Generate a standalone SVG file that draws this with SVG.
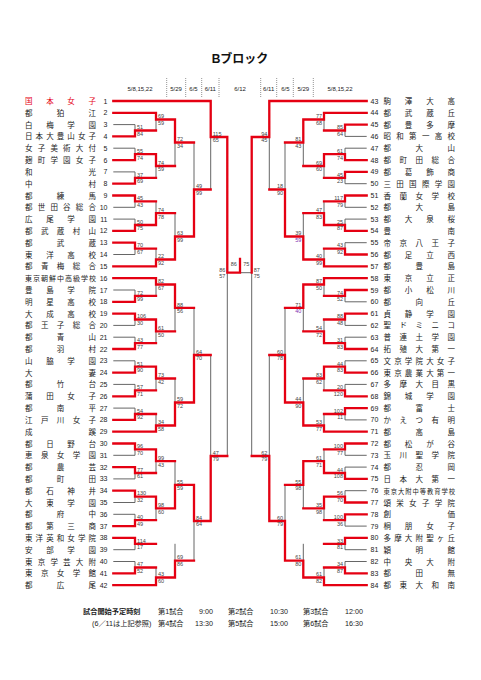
<svg xmlns="http://www.w3.org/2000/svg" width="481" height="680" viewBox="0 0 481 680">
<style>
.g{stroke:#666;stroke-width:1;fill:none}
.r{stroke:#e50012;stroke-width:2.3;fill:none;stroke-linecap:square}
.d{stroke:#777;stroke-width:0.8;stroke-dasharray:1 1}
.nm{font-family:"Noto Sans CJK JP",sans-serif;font-size:7.5px;fill:#222}
.nl{font-family:"Liberation Sans",sans-serif;font-size:7px;fill:#222}
.s{font-family:"Liberation Sans",sans-serif;font-size:5.5px;fill:#444}
.sr{text-anchor:end}
.p{fill:#8030b0}
.h{font-family:"Liberation Sans",sans-serif;font-size:6px;fill:#222;text-anchor:middle}
.f{font-family:"Liberation Sans","Noto Sans CJK JP",sans-serif;font-size:7.2px;fill:#222}
</style>
<rect width="481" height="680" fill="#fff"/>
<g id="header">
<text x="240" y="62.5" text-anchor="middle" font-family="Liberation Sans,Noto Sans CJK JP,sans-serif" font-size="12" font-weight="bold" fill="#111">Bブロック</text>
<path class="d" d="M166.7 78V98M185.7 78V98M201.7 78V98M219 78V98M260.7 78V98M276.7 78V98M293.3 78V98M313.3 78V98"/>
<text class="h" x="140" y="90.5">5/8,15,22</text>
<text class="h" x="176" y="90.5">5/29</text>
<text class="h" x="193.5" y="90.5">6/5</text>
<text class="h" x="210.3" y="90.5">6/11</text>
<text class="h" x="240" y="90.5">6/12</text>
<text class="h" x="268.7" y="90.5">6/11</text>
<text class="h" x="285.3" y="90.5">6/5</text>
<text class="h" x="303.3" y="90.5">5/29</text>
<text class="h" x="340" y="90.5">5/8,15,22</text>
</g>
<g id="teams-left">
<g id="t1"><text class="nm" x="25" y="104" textLength="71" lengthAdjust="spacing" style="fill:#e50012">国本女子</text><text class="nl" x="107.5" y="103.5" text-anchor="end">1</text></g>
<g id="t2"><text class="nm" x="25" y="115.8" textLength="71" lengthAdjust="spacing">都狛江</text><text class="nl" x="107.5" y="115.3" text-anchor="end">2</text></g>
<g id="t3"><text class="nm" x="25" y="127.6" textLength="71" lengthAdjust="spacing">白梅学園</text><text class="nl" x="107.5" y="127.1" text-anchor="end">3</text></g>
<g id="t4"><text class="nm" x="25" y="139.4" textLength="71" lengthAdjust="spacing">日本大豊山女子</text><text class="nl" x="107.5" y="138.9" text-anchor="end">4</text></g>
<g id="t5"><text class="nm" x="25" y="151.2" textLength="71" lengthAdjust="spacing">女子美術大付</text><text class="nl" x="107.5" y="150.7" text-anchor="end">5</text></g>
<g id="t6"><text class="nm" x="25" y="163.1" textLength="71" lengthAdjust="spacing">麹町学園女子</text><text class="nl" x="107.5" y="162.6" text-anchor="end">6</text></g>
<g id="t7"><text class="nm" x="25" y="174.9" textLength="71" lengthAdjust="spacing">和光</text><text class="nl" x="107.5" y="174.4" text-anchor="end">7</text></g>
<g id="t8"><text class="nm" x="25" y="186.7" textLength="71" lengthAdjust="spacing">中村</text><text class="nl" x="107.5" y="186.2" text-anchor="end">8</text></g>
<g id="t9"><text class="nm" x="25" y="198.5" textLength="71" lengthAdjust="spacing">都練馬</text><text class="nl" x="107.5" y="198" text-anchor="end">9</text></g>
<g id="t10"><text class="nm" x="25" y="210.3" textLength="71" lengthAdjust="spacing">都世田谷総合</text><text class="nl" x="107.5" y="209.8" text-anchor="end">10</text></g>
<g id="t11"><text class="nm" x="25" y="222.1" textLength="71" lengthAdjust="spacing">広尾学園</text><text class="nl" x="107.5" y="221.6" text-anchor="end">11</text></g>
<g id="t12"><text class="nm" x="25" y="233.9" textLength="71" lengthAdjust="spacing">都武蔵村山</text><text class="nl" x="107.5" y="233.4" text-anchor="end">12</text></g>
<g id="t13"><text class="nm" x="25" y="245.7" textLength="71" lengthAdjust="spacing">都武蔵</text><text class="nl" x="107.5" y="245.2" text-anchor="end">13</text></g>
<g id="t14"><text class="nm" x="25" y="257.5" textLength="71" lengthAdjust="spacing">東洋高校</text><text class="nl" x="107.5" y="257" text-anchor="end">14</text></g>
<g id="t15"><text class="nm" x="25" y="269.3" textLength="71" lengthAdjust="spacing">都青梅総合</text><text class="nl" x="107.5" y="268.8" text-anchor="end">15</text></g>
<g id="t16"><text class="nm" x="25" y="281.2" textLength="71" lengthAdjust="spacing" style="font-size:7px">東京朝鮮中高級学校</text><text class="nl" x="107.5" y="280.7" text-anchor="end">16</text></g>
<g id="t17"><text class="nm" x="25" y="293" textLength="71" lengthAdjust="spacing">豊島学院</text><text class="nl" x="107.5" y="292.5" text-anchor="end">17</text></g>
<g id="t18"><text class="nm" x="25" y="304.8" textLength="71" lengthAdjust="spacing">明星高校</text><text class="nl" x="107.5" y="304.3" text-anchor="end">18</text></g>
<g id="t19"><text class="nm" x="25" y="316.6" textLength="71" lengthAdjust="spacing">大成高校</text><text class="nl" x="107.5" y="316.1" text-anchor="end">19</text></g>
<g id="t20"><text class="nm" x="25" y="328.4" textLength="71" lengthAdjust="spacing">都王子総合</text><text class="nl" x="107.5" y="327.9" text-anchor="end">20</text></g>
<g id="t21"><text class="nm" x="25" y="340.2" textLength="71" lengthAdjust="spacing">都青山</text><text class="nl" x="107.5" y="339.7" text-anchor="end">21</text></g>
<g id="t22"><text class="nm" x="25" y="352" textLength="71" lengthAdjust="spacing">都羽村</text><text class="nl" x="107.5" y="351.5" text-anchor="end">22</text></g>
<g id="t23"><text class="nm" x="25" y="363.8" textLength="71" lengthAdjust="spacing">山脇学園</text><text class="nl" x="107.5" y="363.3" text-anchor="end">23</text></g>
<g id="t24"><text class="nm" x="25" y="375.6" textLength="71" lengthAdjust="spacing">大妻</text><text class="nl" x="107.5" y="375.1" text-anchor="end">24</text></g>
<g id="t25"><text class="nm" x="25" y="387.4" textLength="71" lengthAdjust="spacing">都竹台</text><text class="nl" x="107.5" y="386.9" text-anchor="end">25</text></g>
<g id="t26"><text class="nm" x="25" y="399.3" textLength="71" lengthAdjust="spacing">蒲田女子</text><text class="nl" x="107.5" y="398.8" text-anchor="end">26</text></g>
<g id="t27"><text class="nm" x="25" y="411.1" textLength="71" lengthAdjust="spacing">都南平</text><text class="nl" x="107.5" y="410.6" text-anchor="end">27</text></g>
<g id="t28"><text class="nm" x="25" y="422.9" textLength="71" lengthAdjust="spacing">江戸川女子</text><text class="nl" x="107.5" y="422.4" text-anchor="end">28</text></g>
<g id="t29"><text class="nm" x="25" y="434.7" textLength="71" lengthAdjust="spacing">成蹊</text><text class="nl" x="107.5" y="434.2" text-anchor="end">29</text></g>
<g id="t30"><text class="nm" x="25" y="446.5" textLength="71" lengthAdjust="spacing">都日野台</text><text class="nl" x="107.5" y="446" text-anchor="end">30</text></g>
<g id="t31"><text class="nm" x="25" y="458.3" textLength="71" lengthAdjust="spacing">恵泉女学園</text><text class="nl" x="107.5" y="457.8" text-anchor="end">31</text></g>
<g id="t32"><text class="nm" x="25" y="470.1" textLength="71" lengthAdjust="spacing">都農芸</text><text class="nl" x="107.5" y="469.6" text-anchor="end">32</text></g>
<g id="t33"><text class="nm" x="25" y="481.9" textLength="71" lengthAdjust="spacing">都町田</text><text class="nl" x="107.5" y="481.4" text-anchor="end">33</text></g>
<g id="t34"><text class="nm" x="25" y="493.7" textLength="71" lengthAdjust="spacing">都石神井</text><text class="nl" x="107.5" y="493.2" text-anchor="end">34</text></g>
<g id="t35"><text class="nm" x="25" y="505.5" textLength="71" lengthAdjust="spacing">大東学園</text><text class="nl" x="107.5" y="505" text-anchor="end">35</text></g>
<g id="t36"><text class="nm" x="25" y="517.3" textLength="71" lengthAdjust="spacing">都府中</text><text class="nl" x="107.5" y="516.8" text-anchor="end">36</text></g>
<g id="t37"><text class="nm" x="25" y="529.1" textLength="71" lengthAdjust="spacing">都第三商</text><text class="nl" x="107.5" y="528.6" text-anchor="end">37</text></g>
<g id="t38"><text class="nm" x="25" y="540.9" textLength="71" lengthAdjust="spacing">東洋英和女学院</text><text class="nl" x="107.5" y="540.4" text-anchor="end">38</text></g>
<g id="t39"><text class="nm" x="25" y="552.7" textLength="71" lengthAdjust="spacing">安部学園</text><text class="nl" x="107.5" y="552.2" text-anchor="end">39</text></g>
<g id="t40"><text class="nm" x="25" y="564.5" textLength="71" lengthAdjust="spacing">東京学芸大附</text><text class="nl" x="107.5" y="564" text-anchor="end">40</text></g>
<g id="t41"><text class="nm" x="25" y="576.4" textLength="71" lengthAdjust="spacing">東京女学館</text><text class="nl" x="107.5" y="575.9" text-anchor="end">41</text></g>
<g id="t42"><text class="nm" x="25" y="588.2" textLength="71" lengthAdjust="spacing">都広尾</text><text class="nl" x="107.5" y="587.7" text-anchor="end">42</text></g>
</g>
<g id="teams-right">
<g id="t43"><text class="nl" x="370.5" y="103.5">43</text><text class="nm" x="383.5" y="104" textLength="71.5" lengthAdjust="spacing">駒澤大高</text></g>
<g id="t44"><text class="nl" x="370.5" y="115.3">44</text><text class="nm" x="383.5" y="115.8" textLength="71.5" lengthAdjust="spacing">都武蔵丘</text></g>
<g id="t45"><text class="nl" x="370.5" y="127.1">45</text><text class="nm" x="383.5" y="127.6" textLength="71.5" lengthAdjust="spacing">都豊多摩</text></g>
<g id="t46"><text class="nl" x="370.5" y="138.9">46</text><text class="nm" x="383.5" y="139.4" textLength="71.5" lengthAdjust="spacing">昭和第一高校</text></g>
<g id="t47"><text class="nl" x="370.5" y="150.7">47</text><text class="nm" x="383.5" y="151.2" textLength="71.5" lengthAdjust="spacing">都大山</text></g>
<g id="t48"><text class="nl" x="370.5" y="162.6">48</text><text class="nm" x="383.5" y="163.1" textLength="71.5" lengthAdjust="spacing">都町田総合</text></g>
<g id="t49"><text class="nl" x="370.5" y="174.4">49</text><text class="nm" x="383.5" y="174.9" textLength="71.5" lengthAdjust="spacing">都葛飾商</text></g>
<g id="t50"><text class="nl" x="370.5" y="186.2">50</text><text class="nm" x="383.5" y="186.7" textLength="71.5" lengthAdjust="spacing">三田国際学園</text></g>
<g id="t51"><text class="nl" x="370.5" y="198">51</text><text class="nm" x="383.5" y="198.5" textLength="71.5" lengthAdjust="spacing">香蘭女学校</text></g>
<g id="t52"><text class="nl" x="370.5" y="209.8">52</text><text class="nm" x="383.5" y="210.3" textLength="71.5" lengthAdjust="spacing">都大島</text></g>
<g id="t53"><text class="nl" x="370.5" y="221.6">53</text><text class="nm" x="383.5" y="222.1" textLength="71.5" lengthAdjust="spacing">都大泉桜</text></g>
<g id="t54"><text class="nl" x="370.5" y="233.4">54</text><text class="nm" x="383.5" y="233.9" textLength="71.5" lengthAdjust="spacing">豊南</text></g>
<g id="t55"><text class="nl" x="370.5" y="245.2">55</text><text class="nm" x="383.5" y="245.7" textLength="71.5" lengthAdjust="spacing">帝京八王子</text></g>
<g id="t56"><text class="nl" x="370.5" y="257">56</text><text class="nm" x="383.5" y="257.5" textLength="71.5" lengthAdjust="spacing">都足立西</text></g>
<g id="t57"><text class="nl" x="370.5" y="268.8">57</text><text class="nm" x="383.5" y="269.3" textLength="71.5" lengthAdjust="spacing">都豊島</text></g>
<g id="t58"><text class="nl" x="370.5" y="280.7">58</text><text class="nm" x="383.5" y="281.2" textLength="71.5" lengthAdjust="spacing">東京立正</text></g>
<g id="t59"><text class="nl" x="370.5" y="292.5">59</text><text class="nm" x="383.5" y="293" textLength="71.5" lengthAdjust="spacing">都小松川</text></g>
<g id="t60"><text class="nl" x="370.5" y="304.3">60</text><text class="nm" x="383.5" y="304.8" textLength="71.5" lengthAdjust="spacing">都向丘</text></g>
<g id="t61"><text class="nl" x="370.5" y="316.1">61</text><text class="nm" x="383.5" y="316.6" textLength="71.5" lengthAdjust="spacing">貞静学園</text></g>
<g id="t62"><text class="nl" x="370.5" y="327.9">62</text><text class="nm" x="383.5" y="328.4" textLength="71.5" lengthAdjust="spacing">聖ドミニコ</text></g>
<g id="t63"><text class="nl" x="370.5" y="339.7">63</text><text class="nm" x="383.5" y="340.2" textLength="71.5" lengthAdjust="spacing">普連土学園</text></g>
<g id="t64"><text class="nl" x="370.5" y="351.5">64</text><text class="nm" x="383.5" y="352" textLength="71.5" lengthAdjust="spacing">拓殖大第一</text></g>
<g id="t65"><text class="nl" x="370.5" y="363.3">65</text><text class="nm" x="383.5" y="363.8" textLength="71.5" lengthAdjust="spacing">文京学院大女子</text></g>
<g id="t66"><text class="nl" x="370.5" y="375.1">66</text><text class="nm" x="383.5" y="375.6" textLength="71.5" lengthAdjust="spacing">東京農業大第一</text></g>
<g id="t67"><text class="nl" x="370.5" y="386.9">67</text><text class="nm" x="383.5" y="387.4" textLength="71.5" lengthAdjust="spacing">多摩大目黒</text></g>
<g id="t68"><text class="nl" x="370.5" y="398.8">68</text><text class="nm" x="383.5" y="399.3" textLength="71.5" lengthAdjust="spacing">錦城学園</text></g>
<g id="t69"><text class="nl" x="370.5" y="410.6">69</text><text class="nm" x="383.5" y="411.1" textLength="71.5" lengthAdjust="spacing">都富士</text></g>
<g id="t70"><text class="nl" x="370.5" y="422.4">70</text><text class="nm" x="383.5" y="422.9" textLength="71.5" lengthAdjust="spacing">かえつ有明</text></g>
<g id="t71"><text class="nl" x="370.5" y="434.2">71</text><text class="nm" x="383.5" y="434.7" textLength="71.5" lengthAdjust="spacing">都高島</text></g>
<g id="t72"><text class="nl" x="370.5" y="446">72</text><text class="nm" x="383.5" y="446.5" textLength="71.5" lengthAdjust="spacing">都松が谷</text></g>
<g id="t73"><text class="nl" x="370.5" y="457.8">73</text><text class="nm" x="383.5" y="458.3" textLength="71.5" lengthAdjust="spacing">玉川聖学院</text></g>
<g id="t74"><text class="nl" x="370.5" y="469.6">74</text><text class="nm" x="383.5" y="470.1" textLength="71.5" lengthAdjust="spacing">都忍岡</text></g>
<g id="t75"><text class="nl" x="370.5" y="481.4">75</text><text class="nm" x="383.5" y="481.9" textLength="71.5" lengthAdjust="spacing">日本大第一</text></g>
<g id="t76"><text class="nl" x="370.5" y="493.2">76</text><text class="nm" x="383.5" y="493.5" textLength="71.5" lengthAdjust="spacing" style="font-size:6.3px">東京大附中等教育学校</text></g>
<g id="t77"><text class="nl" x="370.5" y="505">77</text><text class="nm" x="383.5" y="505.5" textLength="71.5" lengthAdjust="spacing">頌栄女子学院</text></g>
<g id="t78"><text class="nl" x="370.5" y="516.8">78</text><text class="nm" x="383.5" y="517.3" textLength="71.5" lengthAdjust="spacing">創価</text></g>
<g id="t79"><text class="nl" x="370.5" y="528.6">79</text><text class="nm" x="383.5" y="529.1" textLength="71.5" lengthAdjust="spacing">桐朋女子</text></g>
<g id="t80"><text class="nl" x="370.5" y="540.4">80</text><text class="nm" x="383.5" y="540.9" textLength="71.5" lengthAdjust="spacing">多摩大附聖ヶ丘</text></g>
<g id="t81"><text class="nl" x="370.5" y="552.2">81</text><text class="nm" x="383.5" y="552.7" textLength="71.5" lengthAdjust="spacing">穎明館</text></g>
<g id="t82"><text class="nl" x="370.5" y="564">82</text><text class="nm" x="383.5" y="564.5" textLength="71.5" lengthAdjust="spacing">中央大附</text></g>
<g id="t83"><text class="nl" x="370.5" y="575.9">83</text><text class="nm" x="383.5" y="576.4" textLength="71.5" lengthAdjust="spacing">都田無</text></g>
<g id="t84"><text class="nl" x="370.5" y="587.7">84</text><text class="nm" x="383.5" y="588.2" textLength="71.5" lengthAdjust="spacing">都東大和南</text></g>
</g>
<g id="connectors">
<path class="g" d="M113.3 124.6H135M113.3 148.2H135M113.3 171.9H135M113.3 207.3H135M113.3 219.1H135M113.3 254.5H135M113.3 290H135M113.3 325.4H135M113.3 337.2H135M113.3 360.8H135M113.3 384.4H135M113.3 408.1H135M113.3 455.3H135M113.3 478.9H135M113.3 502.5H135M113.3 514.3H135M113.3 549.7H135M113.3 561.5H135
M135 124.6V136.4M156 112.8V130.5M135 148.2V160.1M135 171.9V183.7M156 154.2V177.8M175 119.5V166M135 195.5V207.3M135 219.1V230.9M156 201.4V225M135 242.7V254.5M156 248.6V266.3M175 213.2V259.5M194 142.5V236.5M210.7 101V189.5
M135 290V301.8M156 278.2V295.9M135 313.6V325.4M135 337.2V349M156 319.5V343.1M175 284.5V331.3M135 360.8V372.6M135 384.4V396.3M156 366.7V390.3M135 408.1V419.9M156 414V431.7M175 378.5V425.5M194 307.9V402.5
M135 443.5V455.3M135 467.1V478.9M156 449.4V473M135 490.7V502.5M135 514.3V526.1M156 496.6V520.2M175 461.2V508.4M135 537.9V549.7M135 561.5V573.4M156 567.5V585.2M175 543.8V577.5M194 484.8V560.6M210.7 355V521M227.3 137V456"/>
<path class="g" d="M366.7 136.4H345M366.7 148.2H345M366.7 183.7H345M366.7 207.3H345M366.7 219.1H345M366.7 242.7H345M366.7 301.8H345M366.7 325.4H345M366.7 337.2H345M366.7 360.8H345M366.7 384.4H345M366.7 419.9H345M366.7 455.3H345M366.7 467.1H345M366.7 490.7H345M366.7 526.1H345M366.7 549.7H345M366.7 561.5H345
M345 124.6V136.4M324 112.8V130.5M345 148.2V160.1M345 171.9V183.7M324 154.2V177.8M303.3 119.5V166M345 195.5V207.3M345 219.1V230.9M324 201.4V225M345 242.7V254.5M324 248.6V266.3M303.3 213.2V259.5M285 142.5V236.5M269.3 101V189.5
M345 290V301.8M324 278.2V295.9M345 313.6V325.4M345 337.2V349M324 319.5V343.1M303.3 284.5V331.3M345 360.8V372.6M345 384.4V396.3M324 366.7V390.3M345 408.1V419.9M324 414V431.7M303.3 378.5V425.5M285 307.9V402.5
M345 443.5V455.3M345 467.1V478.9M324 449.4V473M345 490.7V502.5M345 514.3V526.1M324 496.6V520.2M303.3 461.2V508.4M345 537.9V549.7M345 561.5V573.4M324 567.5V585.2M303.3 543.8V577.5M285 484.8V560.6M269.3 355V521M251.7 137V456
M240 272.7H251.7"/>
<path class="r" d="M113.3 101H210.7M113.3 112.8H156M113.3 136.4H135M113.3 160.1H135M113.3 183.7H135M113.3 195.5H135M113.3 230.9H135M113.3 242.7H135M113.3 266.3H156M113.3 278.2H156M113.3 301.8H135M113.3 313.6H135M113.3 349H135M113.3 372.6H135M113.3 396.3H135M113.3 419.9H135M113.3 431.7H156M113.3 443.5H135M113.3 467.1H135M113.3 490.7H135M113.3 526.1H135M113.3 537.9H135M113.3 573.4H135M113.3 585.2H156
M135 136.4V130.5H156M156 112.8V119.5H175M135 160.1V154.2H156M135 183.7V177.8H156M156 154.2V166H175M175 119.5V142.5H194M135 195.5V201.4H156M135 230.9V225H156M156 225V213.2H175M135 242.7V248.6H156M156 266.3V259.5H175M175 259.5V236.5H194M194 236.5V189.5H210.7M210.7 101V137H227.3
M135 301.8V295.9H156M156 278.2V284.5H175M135 313.6V319.5H156M135 349V343.1H156M156 319.5V331.3H175M175 284.5V307.9H194M135 372.6V366.7H156M135 396.3V390.3H156M156 366.7V378.5H175M135 419.9V414H156M156 431.7V425.5H175M175 425.5V402.5H194M194 402.5V355H210.7
M135 443.5V449.4H156M135 467.1V473H156M156 449.4V461.2H175M135 490.7V496.6H156M135 526.1V520.2H156M156 496.6V508.4H175M175 508.4V484.8H194M135 537.9V543.8H156M135 573.4V567.5H156M156 585.2V577.5H175M175 577.5V560.6H194M194 484.8V521H210.7M210.7 521V456H227.3M227.3 137V272.7H240M240 272.7V259"/>
<path class="r" d="M366.7 101H269.3M366.7 112.8H324M366.7 124.6H345M366.7 160.1H345M366.7 171.9H345M366.7 195.5H345M366.7 230.9H345M366.7 254.5H345M366.7 266.3H324M366.7 278.2H324M366.7 290H345M366.7 313.6H345M366.7 349H345M366.7 372.6H345M366.7 396.3H345M366.7 408.1H345M366.7 431.7H324M366.7 443.5H345M366.7 478.9H345M366.7 502.5H345M366.7 514.3H345M366.7 537.9H345M366.7 573.4H345M366.7 585.2H324
M345 124.6V130.5H324M324 112.8V119.5H303.3M345 160.1V154.2H324M345 171.9V177.8H324M324 154.2V166H303.3M303.3 119.5V142.5H285M345 195.5V201.4H324M345 230.9V225H324M324 225V213.2H303.3M345 254.5V248.6H324M324 266.3V259.5H303.3M303.3 259.5V236.5H285M285 236.5V189.5H269.3M269.3 101V137H251.7
M345 290V295.9H324M324 278.2V284.5H303.3M345 313.6V319.5H324M345 349V343.1H324M324 343.1V331.3H303.3M303.3 284.5V307.9H285M345 372.6V366.7H324M345 396.3V390.3H324M324 366.7V378.5H303.3M345 408.1V414H324M324 431.7V425.5H303.3M303.3 425.5V402.5H285M285 402.5V355H269.3
M345 443.5V449.4H324M345 478.9V473H324M324 473V461.2H303.3M345 502.5V496.6H324M345 514.3V520.2H324M324 496.6V508.4H303.3M303.3 461.2V484.8H285M345 537.9V543.8H324M345 573.4V567.5H324M324 585.2V577.5H303.3M303.3 577.5V560.6H285M285 560.6V521H269.3M269.3 521V456H251.7M251.7 137V272.7"/>
</g>
<g id="scores">
<g class="s">
<text x="137" y="129.3">51</text><text x="137" y="135.9">84</text>
<text x="158" y="118.3">69</text><text x="158" y="124.9">59</text>
<text x="137" y="153">55</text><text x="137" y="159.6">74</text>
<text x="137" y="176.6">37</text><text x="137" y="183.2">69</text>
<text x="158" y="164.8">74</text><text x="158" y="171.4">59</text>
<text x="177" y="141.3">72</text><text x="177" y="147.9">34</text>
<text x="137" y="200.2">45</text><text x="137" y="206.8">43</text>
<text x="137" y="223.8">50</text><text x="137" y="230.4">75</text>
<text x="158" y="212">74</text><text x="158" y="218.6">78</text>
<text x="137" y="247.4">70</text><text x="137" y="254">67</text>
<text x="158" y="258.3">22</text><text x="158" y="264.9">92</text>
<text x="177" y="235.3">63</text><text x="177" y="241.9">99</text>
<text x="196" y="188.3">49</text><text x="196" y="194.9">99</text>
<text x="212.7" y="135.8">115</text><text x="212.7" y="142.4">65</text>
<text x="137" y="294.7">72</text><text x="137" y="301.3">99</text>
<text x="158" y="283.3">82</text><text x="158" y="289.9">67</text>
<text x="137" y="318.3">106</text><text x="137" y="324.9">30</text>
<text x="137" y="341.9">43</text><text x="137" y="348.5">77</text>
<text x="158" y="330.1">61</text><text x="158" y="336.7">50</text>
<text x="177" y="306.7">88</text><text x="177" y="313.3">56</text>
<text x="137" y="365.5">51</text><text x="137" y="372.1">90</text>
<text x="137" y="389.1">57</text><text x="137" y="395.7">71</text>
<text x="158" y="377.3">73</text><text x="158" y="383.9">42</text>
<text x="137" y="412.8">54</text><text x="137" y="419.4">92</text>
<text x="158" y="424.3">34</text><text x="158" y="430.9">58</text>
<text x="177" y="401.3">59</text><text x="177" y="407.9">72</text>
<text x="196" y="353.8">64</text><text x="196" y="360.4">70</text>
<text x="137" y="448.2">96</text><text x="137" y="454.8">70</text>
<text x="137" y="471.8">77</text><text x="137" y="478.4">61</text>
<text x="158" y="460">99</text><text x="158" y="466.6">43</text>
<text x="137" y="495.4">130</text><text x="137" y="502">32</text>
<text x="137" y="519">40</text><text x="137" y="525.6">49</text>
<text x="158" y="507.2">98</text><text x="158" y="513.8">60</text>
<text x="177" y="483.6">55</text><text x="177" y="490.2">59</text>
<text x="137" y="542.6">114</text><text x="137" y="549.2">17</text>
<text x="137" y="566.3">47</text><text x="137" y="572.9">52</text>
<text x="158" y="576.3">43</text><text x="158" y="582.9">60</text>
<text x="177" y="559.4">69</text><text x="177" y="566">86</text>
<text x="196" y="519.8">84</text><text x="196" y="526.4">64</text>
<text x="212.7" y="454.8">47</text><text x="212.7" y="461.4">79</text>
<text x="225.3" y="271.5" text-anchor="end">86</text><text x="225.3" y="278.1" text-anchor="end">57</text>
<text x="233.8" y="266" text-anchor="middle">86</text><text x="246.3" y="266" text-anchor="middle">75</text>
<text x="253.7" y="271.5">87</text><text x="253.7" y="278.1">75</text>
</g>
<g class="s sr">
<text x="343" y="129.3">85</text><text x="343" y="135.9">64</text>
<text x="322" y="118.3">77</text><text x="322" y="124.9">68</text>
<text x="343" y="153">61</text><text x="343" y="159.6">74</text>
<text x="343" y="176.6">45</text><text x="343" y="183.2">23</text>
<text x="322" y="164.8">69</text><text x="322" y="171.4">60</text>
<text x="301.3" y="141.3">81</text><text x="301.3" y="147.9">43</text>
<text x="343" y="200.2">117</text><text x="343" y="206.8">79</text>
<text x="343" y="223.8">25</text><text x="343" y="230.4">87</text>
<text x="322" y="212">47</text><text x="322" y="218.6">83</text>
<text x="343" y="247.4">43</text><text x="343" y="254">92</text>
<text x="322" y="258.3">40</text><text x="322" y="264.9">99</text>
<text x="301.3" y="235.3">39</text><text class="p" x="301.3" y="241.9">59</text>
<text x="283" y="188.3">18</text><text x="283" y="194.9">90</text>
<text x="267.3" y="135.8">94</text><text x="267.3" y="142.4">45</text>
<text x="343" y="294.7">74</text><text x="343" y="301.3">52</text>
<text x="322" y="283.3">87</text><text x="322" y="289.9">50</text>
<text x="343" y="318.3">88</text><text x="343" y="324.9">48</text>
<text x="343" y="341.9">31</text><text x="343" y="348.5">83</text>
<text x="322" y="330.1">54</text><text x="322" y="336.7">72</text>
<text x="301.3" y="306.7">71</text><text class="p" x="301.3" y="313.3">40</text>
<text x="343" y="365.5">44</text><text x="343" y="372.1">83</text>
<text x="343" y="389.1">20</text><text x="343" y="395.7">120</text>
<text x="322" y="377.3">83</text><text x="322" y="383.9">62</text>
<text x="343" y="412.8">102</text><text x="343" y="419.4">11</text>
<text x="322" y="424.3">53</text><text x="322" y="430.9">77</text>
<text x="301.3" y="401.3">44</text><text x="301.3" y="407.9">90</text>
<text x="283" y="353.8">60</text><text x="283" y="360.4">78</text>
<text x="343" y="448.2">100</text><text x="343" y="454.8">77</text>
<text x="343" y="471.8">44</text><text x="343" y="478.4">108</text>
<text x="322" y="460">61</text><text x="322" y="466.6">71</text>
<text x="343" y="495.4">56</text><text x="343" y="502">70</text>
<text x="343" y="519">100</text><text x="343" y="525.6">36</text>
<text x="322" y="507.2">35</text><text x="322" y="513.8">98</text>
<text x="301.3" y="483.6">55</text><text x="301.3" y="490.2">98</text>
<text x="343" y="542.6">33</text><text x="343" y="549.2">81</text>
<text x="343" y="566.3">34</text><text x="343" y="572.9">87</text>
<text x="322" y="576.3">61</text><text x="322" y="582.9">82</text>
<text x="301.3" y="559.4">61</text><text x="301.3" y="566">80</text>
<text x="283" y="519.8">60</text><text x="283" y="526.4">79</text>
<text x="267.3" y="454.8">62</text><text x="267.3" y="461.4">79</text>
</g>
</g>
<g id="footer" class="f">
<text x="83" y="613.5" font-weight="bold">試合開始予定時刻</text>
<text x="158" y="613.5">第1試合</text><text x="213" y="613.5" text-anchor="end">9:00</text>
<text x="228" y="613.5">第2試合</text><text x="288" y="613.5" text-anchor="end">10:30</text>
<text x="303" y="613.5">第3試合</text><text x="363" y="613.5" text-anchor="end">12:00</text>
<text x="92" y="625.5">(6／11は上記参照)</text>
<text x="158" y="625.5">第4試合</text><text x="213" y="625.5" text-anchor="end">13:30</text>
<text x="228" y="625.5">第5試合</text><text x="288" y="625.5" text-anchor="end">15:00</text>
<text x="303" y="625.5">第6試合</text><text x="363" y="625.5" text-anchor="end">16:30</text>
</g>
</svg>
